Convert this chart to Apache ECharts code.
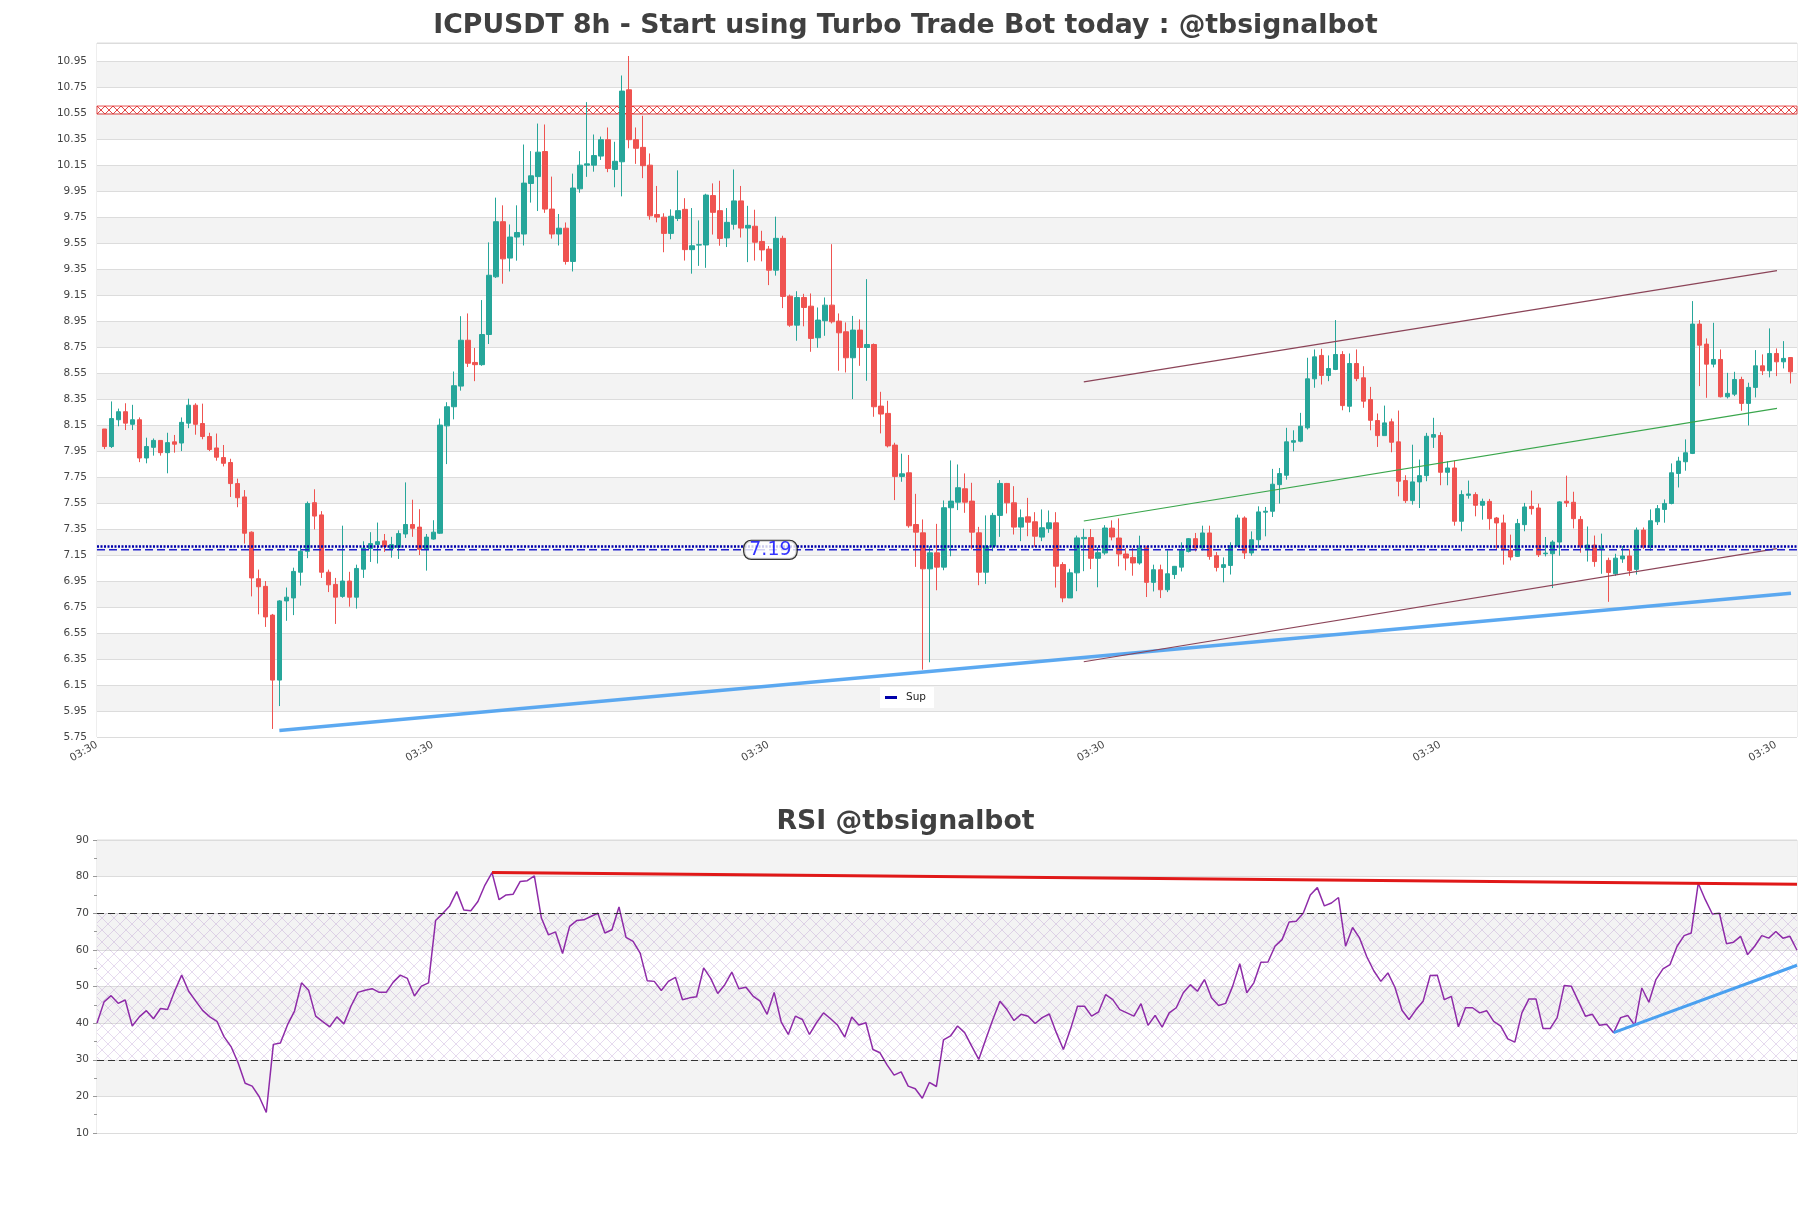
<!DOCTYPE html>
<html><head><meta charset="utf-8">
<script src="https://cdn.jsdelivr.net/npm/echarts/dist/echarts.min.js"></script>
<style>html,body{margin:0;padding:0;background:#fff;}#chart{width:1811px;height:1208px;}</style>
</head><body><div id="chart"></div>
<script>
// ---------- DATA ----------
const mainTitle = 'ICPUSDT 8h - Start using Turbo Trade Bot today : @tbsignalbot';
const rsiTitle = 'RSI @tbsignalbot';
const xTickLabels = ['03:30','03:30','03:30','03:30','03:30','03:30'];

const opens = [8.12,7.985,8.191,8.253,8.156,8.191,7.897,7.979,8.032,7.938,
8.021,8.012,8.165,8.303,8.162,8.062,7.974,7.9,7.862,7.7,
7.597,7.326,6.968,6.909,6.688,6.188,6.797,6.82,7.018,7.179,
7.553,7.459,7.018,6.924,6.832,6.95,6.826,7.041,7.2,7.232,
7.259,7.2,7.21,7.312,7.385,7.365,7.194,7.273,7.318,8.144,
8.291,8.45,8.803,8.632,8.615,8.847,9.291,9.715,9.435,9.597,
9.62,10.009,10.062,10.255,9.812,9.62,9.665,9.409,9.968,10.15,
10.15,10.22,10.346,10.117,10.176,10.73,10.346,10.287,10.15,9.77,
9.75,9.625,9.74,9.81,9.5,9.535,9.536,9.916,9.8,9.59,
9.695,9.875,9.666,9.68,9.563,9.504,9.342,9.587,9.142,8.919,
9.132,9.065,8.822,8.953,9.073,8.95,8.868,8.668,8.881,8.747,
8.77,8.296,8.24,7.996,7.755,7.783,7.385,7.321,7.044,7.167,
7.057,7.514,7.557,7.66,7.565,7.321,7.018,7.218,7.455,7.701,
7.552,7.365,7.444,7.406,7.288,7.354,7.398,7.077,6.82,7.013,
7.276,7.285,7.125,7.166,7.357,7.281,7.158,7.132,7.089,7.204,
6.94,7.037,6.883,7.0,7.057,7.178,7.276,7.204,7.32,7.145,
7.055,7.07,7.222,7.435,7.166,7.268,7.48,7.487,7.692,7.764,
8.018,8.026,8.129,8.506,8.686,8.532,8.578,8.693,8.295,8.624,
8.514,8.347,8.185,8.069,8.175,8.021,7.723,7.569,7.713,7.761,
8.057,8.07,7.787,7.82,7.41,7.61,7.615,7.533,7.563,7.435,
7.397,7.186,7.14,7.384,7.525,7.512,7.16,7.16,7.25,7.564,
7.556,7.424,7.2,7.227,7.2,7.109,7.006,7.12,7.143,7.04,
7.342,7.209,7.406,7.501,7.547,7.778,7.868,7.932,8.927,8.773,
8.619,8.655,8.368,8.388,8.501,8.317,8.44,8.606,8.568,8.701,
8.637,8.67];
const closes = [7.985,8.20,8.253,8.165,8.191,7.897,7.985,8.032,7.938,8.015,
8.003,8.171,8.303,8.156,8.062,7.962,7.903,7.856,7.7,7.591,
7.318,6.974,6.906,6.674,6.188,6.797,6.826,7.024,7.179,7.547,
7.45,7.018,6.921,6.826,6.95,6.826,7.047,7.203,7.238,7.253,
7.215,7.23,7.315,7.385,7.356,7.194,7.288,7.326,8.15,8.291,
8.453,8.803,8.626,8.615,8.847,9.303,9.715,9.429,9.597,9.632,
10.012,10.068,10.25,9.812,9.62,9.665,9.409,9.974,10.15,10.16,
10.224,10.346,10.125,10.18,10.72,10.346,10.28,10.146,9.76,9.75,
9.625,9.757,9.80,9.50,9.53,9.538,9.92,9.787,9.586,9.71,
9.875,9.666,9.687,9.557,9.498,9.342,9.587,9.14,8.919,9.132,
9.055,8.817,8.958,9.073,8.945,8.86,8.668,8.881,8.747,8.77,
8.291,8.235,7.99,7.755,7.775,7.375,7.326,7.044,7.167,7.057,
7.514,7.565,7.668,7.557,7.326,7.018,7.218,7.455,7.701,7.552,
7.365,7.437,7.403,7.295,7.36,7.398,7.064,6.82,7.013,7.282,
7.286,7.125,7.168,7.358,7.289,7.158,7.127,7.089,7.204,6.94,
7.037,6.883,7.006,7.063,7.186,7.276,7.204,7.32,7.14,7.055,
7.076,7.222,7.435,7.166,7.268,7.482,7.487,7.695,7.777,8.021,
8.03,8.141,8.506,8.675,8.532,8.585,8.693,8.3,8.624,8.508,
8.334,8.187,8.069,8.167,8.018,7.718,7.569,7.713,7.761,8.064,
8.077,7.787,7.82,7.41,7.615,7.62,7.533,7.563,7.43,7.397,
7.191,7.135,7.392,7.52,7.507,7.153,7.165,7.25,7.559,7.551,
7.43,7.214,7.227,7.1,7.21,7.016,7.126,7.143,7.03,7.342,
7.213,7.414,7.507,7.547,7.783,7.873,7.937,8.927,8.765,8.619,
8.655,8.368,8.394,8.501,8.317,8.44,8.606,8.568,8.701,8.637,
8.663,8.56];
const lows = [7.965,7.974,8.141,8.112,8.112,7.865,7.856,7.915,7.915,7.779,
7.938,7.95,8.126,8.076,8.041,7.95,7.876,7.832,7.597,7.518,
7.238,6.832,6.694,6.597,5.812,5.988,6.644,6.688,6.915,7.126,
7.347,6.974,6.865,6.62,6.821,6.753,6.738,6.974,7.097,7.085,
7.174,7.13,7.12,7.282,7.29,7.15,7.03,7.268,7.312,7.85,
8.194,8.415,8.597,8.488,8.606,8.774,9.282,9.238,9.332,9.415,
9.532,9.862,9.797,9.783,9.585,9.532,9.385,9.332,9.938,10.06,
10.1,10.19,10.096,9.98,9.91,10.28,10.16,10.05,9.73,9.71,
9.48,9.58,9.72,9.416,9.315,9.375,9.36,9.616,9.53,9.52,
9.654,9.593,9.404,9.416,9.41,9.227,9.30,9.05,8.906,8.799,
8.91,8.714,8.745,8.837,8.932,8.568,8.555,8.35,8.606,8.491,
8.214,8.086,7.978,7.573,7.714,7.36,7.059,6.268,6.325,6.879,
7.033,7.141,7.496,7.475,7.193,6.918,6.928,7.18,7.29,7.47,
7.308,7.257,7.295,7.213,7.257,7.321,6.9,6.787,6.82,6.872,
7.026,7.042,6.902,7.152,7.263,7.063,7.032,6.991,7.076,6.827,
6.87,6.819,6.865,6.966,7.024,7.17,7.178,7.186,7.114,7.024,
6.94,7.0,7.212,7.12,7.145,7.204,7.294,7.443,7.546,7.73,
7.948,8.018,8.116,8.437,8.462,8.488,8.573,8.264,8.249,8.488,
8.283,8.11,7.982,8.069,7.941,7.602,7.551,7.538,7.512,7.718,
7.974,7.687,7.687,7.376,7.333,7.584,7.448,7.422,7.345,7.191,
7.076,7.109,7.135,7.333,7.461,7.135,7.14,6.896,7.145,7.52,
7.355,7.168,7.1,7.06,7.006,6.79,6.99,7.09,6.99,7.0,
7.196,7.183,7.381,7.399,7.54,7.67,7.799,7.927,8.45,8.36,
8.594,8.363,8.355,8.373,8.26,8.147,8.363,8.535,8.517,8.527,
8.586,8.47];
const highs = [8.12,8.332,8.277,8.318,8.306,8.209,8.053,8.047,8.032,8.091,
8.074,8.209,8.353,8.318,8.315,8.091,8.085,7.997,7.891,7.738,
7.65,7.332,7.038,6.95,6.697,6.803,6.9,7.053,7.218,7.562,
7.656,7.488,7.038,6.974,7.376,7.021,7.076,7.256,7.326,7.4,
7.312,7.29,7.34,7.709,7.576,7.503,7.312,7.418,8.2,8.326,
8.562,8.988,9.009,8.744,9.112,9.556,9.9,9.841,9.694,9.841,
10.309,10.258,10.47,10.463,10.062,9.774,9.709,10.085,10.258,10.635,
10.386,10.37,10.44,10.33,10.84,10.99,10.44,10.53,10.24,9.99,
9.78,9.81,10.11,9.896,9.82,9.725,9.93,10.01,10.03,9.82,
10.117,9.99,9.837,9.807,9.645,9.528,9.754,9.607,9.154,9.18,
9.16,9.163,9.055,9.132,9.542,9.009,8.94,8.99,8.963,9.273,
8.778,8.406,8.337,8.014,7.93,7.92,7.621,7.424,7.218,7.39,
7.57,7.878,7.847,7.778,7.706,7.367,7.455,7.475,7.727,7.705,
7.68,7.501,7.59,7.48,7.501,7.493,7.48,7.095,7.044,7.30,
7.352,7.35,7.21,7.38,7.417,7.432,7.204,7.204,7.299,7.222,
7.076,7.076,7.186,7.066,7.248,7.281,7.32,7.376,7.376,7.173,
7.132,7.248,7.461,7.448,7.332,7.525,7.52,7.813,7.82,8.129,
8.11,8.244,8.668,8.732,8.737,8.686,8.958,8.719,8.701,8.732,
8.603,8.444,8.239,8.3,8.2,8.262,7.764,7.999,7.885,8.09,
8.206,8.095,7.872,7.877,7.648,7.723,7.633,7.584,7.582,7.443,
7.461,7.307,7.428,7.551,7.646,7.546,7.289,7.264,7.564,7.761,
7.637,7.45,7.37,7.3,7.315,7.13,7.16,7.22,7.195,7.362,
7.362,7.501,7.535,7.578,7.855,7.906,8.04,9.104,8.958,8.817,
8.937,8.732,8.552,8.56,8.522,8.476,8.727,8.694,8.894,8.74,
8.796,8.67];

const rsiValues = [40,45.8,47.5,45.4,46.3,39.2,41.7,43.4,41.2,44,
43.7,48.7,53.1,48.7,46,43.4,41.7,40.5,36.3,33.6,
29.2,23.6,22.8,19.9,15.6,34.2,34.6,39.5,43.3,51,
49,41.9,40.4,39,41.7,39.8,44.6,48.4,49,49.4,
48.4,48.4,51.2,53.1,52.2,47.4,50.1,51,68,69.9,
72,75.9,70.9,70.7,73.2,77.7,81.1,73.7,75,75.2,
78.7,78.9,80.2,68.7,64.1,64.9,59,66.4,68,68.2,
69.1,70,64.6,65.5,71.7,63.4,62.3,59.1,51.6,51.4,
48.9,51.4,52.5,46.4,46.9,47.2,55.1,52.2,48.1,50.5,
53.9,49.4,49.8,47.4,46,42.4,48.4,40.3,36.9,41.9,
41,36.9,40.1,42.8,41.2,39.4,36.2,41.7,39.5,40.1,
32.8,31.9,28.6,25.8,
26.7,22.8,22.1,19.5,23.8,22.7,35.4,36.5,39.2,37.4,
33.7,30.1,35.6,41,46,43.7,40.7,42.4,41.9,39.9,
41.5,42.5,37.4,32.8,38.3,44.6,44.6,41.9,43.1,47.8,
46.4,43.7,42.8,41.9,45.3,39.4,42.1,38.9,42.8,44.2,
48.3,50.5,48.7,51.9,46.9,44.8,45.4,50.1,56.2,48.3,
51,56.6,56.7,61,62.8,67.6,67.8,70,75,77,
72,72.8,74.3,61,66.1,63.2,58.2,54.3,51.4,53.7,
49.8,43.5,41,43.7,46,53,53.1,46.4,47.3,39,
44.2,44.2,42.8,43.4,40.5,39.2,35.7,34.8,42.8,46.6,
46.6,38.5,38.5,41.5,50.3,50.1,46,41.9,42.4,39.4,
39.7,37.4,41.5,42.1,39.4,49.6,45.7,51.9,54.8,56,
61,63.9,64.6,78.2,73.7,69.8,70,61.7,62.1,63.7,
58.7,61,63.9,63.2,65,63.2,63.7,59.9];

// trend lines: [candle index, price]
const supportLine = [[25.0, 5.80], [241.1, 6.856]];
const channelUpper = [[140.0, 8.483], [239.1, 9.338]];
const channelMid = [[140.0, 7.412], [239.1, 8.278]];
const channelLower = [[140.0, 6.329], [239.1, 7.199]];
const resistanceBand = [10.543, 10.605];
const supDottedLevel = 7.215;
const dashedLevel = 7.19;
const dashedLabelText = '7.19';
const dashedLabelIndex = 95.2;
// RSI lines: [index, rsi]
const rsiResLine = [[56, 81.1], [241, 77.9]];
const rsiSupLine = [[215, 37.4], [241, 55.8]];
const rsiLevels = [30, 70];
const rsiHatch = [30, 70];

// ---------- CHART ----------
const X0 = 1.07, XMAX = 243.03;
const Y_MIN = 5.75, Y_MAX = 11.09, GRID_TOP = 43, GRID_H = 694;
const FONT = 'DejaVu Sans';
function makePattern(w, h, color, lw) {
  const c = document.createElement('canvas'); c.width = w; c.height = h;
  const g = c.getContext('2d');
  g.strokeStyle = color; g.lineWidth = lw;
  g.beginPath(); g.moveTo(0,0); g.lineTo(w,h); g.moveTo(w,0); g.lineTo(0,h); g.stroke();
  return c;
}
// pattern cell height matches the band's pixel height so each cell is one "X"
const bandTopPx = GRID_TOP + (Y_MAX - resistanceBand[1]) / (Y_MAX - Y_MIN) * GRID_H;
const bandHPx = (resistanceBand[1] - resistanceBand[0]) / (Y_MAX - Y_MIN) * GRID_H;
const redHatch = makePattern(8, Math.round(bandHPx), '#e02a2a', 0.9);
const rsiHatchPat = makePattern(12, 12, 'rgba(150,100,190,0.24)', 1);

const candleData = opens.map((o, i) => [i + X0, o, closes[i], lows[i], highs[i]]);
const shiftX = arr => arr.map(p => [p[0] + X0, p[1]]);
const rsiData = rsiValues.map((v, i) => [i, v]);

const chart = echarts.init(document.getElementById('chart'), null, {renderer: 'canvas'});
chart.setOption({
  animation: false,
  backgroundColor: '#ffffff',
  title: [
    {text: mainTitle, left: 'center', top: 8, textStyle: {fontFamily: FONT, fontSize: 26.7, fontWeight: 'bold', color: '#404040'}},
    {text: rsiTitle, left: 'center', top: 804, textStyle: {fontFamily: FONT, fontSize: 26.7, fontWeight: 'bold', color: '#404040'}}
  ],
  legend: {
    data: [{name: 'Sup', icon: 'rect', itemStyle: {color: '#0000aa'}}],
    left: 880, top: 687, backgroundColor: '#ffffff', padding: [5, 8, 5, 5],
    itemWidth: 12, itemHeight: 3, selectedMode: false,
    textStyle: {fontFamily: FONT, fontSize: 10.5, color: '#222', padding: [0,0,0,4]}
  },
  grid: [
    {left: 97, right: 14, top: GRID_TOP, height: GRID_H, show: true, borderColor: '#dddddd', borderWidth: 1, backgroundColor: 'transparent'},
    {left: 97, right: 14, top: 840, height: 293, show: true, borderColor: '#dddddd', borderWidth: 1, backgroundColor: 'transparent'}
  ],
  xAxis: [
    {type: 'value', gridIndex: 0, min: 0, max: XMAX, interval: 48,
     splitLine: {show: false}, axisLine: {show: false}, axisTick: {show: false},
     axisLabel: {rotate: 30, fontFamily: FONT, fontSize: 10.5, color: '#444', margin: 7,
       formatter: (v) => { const k = Math.round(v / 48); return Math.abs(v - k * 48) < 0.01 ? (xTickLabels[k] || '') : ''; }}},
    {type: 'value', gridIndex: 1, min: 0, max: rsiValues.length - 1, show: false}
  ],
  yAxis: [
    {type: 'value', gridIndex: 0, min: Y_MIN, max: Y_MAX, interval: 0.2,
     axisLine: {show: false}, axisTick: {show: false},
     splitLine: {show: true, lineStyle: {color: '#dcdcdc', width: 1}},
     splitArea: {show: true, areaStyle: {color: ['#ffffff', '#f3f3f3']}},
     axisLabel: {fontFamily: FONT, fontSize: 10.5, color: '#444', margin: 10,
       formatter: (v) => { const k = (v - 5.75) / 0.2; return Math.abs(k - Math.round(k)) < 0.01 ? v.toFixed(2) : ''; }}},
    {type: 'value', gridIndex: 1, min: 10, max: 90, interval: 10,
     axisLine: {show: false},
     axisTick: {show: true, length: 4, lineStyle: {color: '#999'}},
     minorTick: {show: true, splitNumber: 2, length: 3, lineStyle: {color: '#999'}},
     splitLine: {show: true, lineStyle: {color: '#dcdcdc', width: 1}},
     splitArea: {show: true, areaStyle: {color: ['#ffffff', '#f3f3f3']}},
     axisLabel: {fontFamily: FONT, fontSize: 10.5, color: '#444', margin: 8}}
  ],
  series: [
    {type: 'line', name: 'band', xAxisIndex: 0, yAxisIndex: 0, data: [], z: 1, silent: true,
     markArea: {silent: true, itemStyle: {color: {image: redHatch, repeat: 'repeat', x: 97, y: bandTopPx}, borderColor: '#e02a2a', borderWidth: 0.8},
       data: [[{yAxis: resistanceBand[0]}, {yAxis: resistanceBand[1]}]]}},
    {type: 'candlestick', name: 'price', xAxisIndex: 0, yAxisIndex: 0, data: candleData, barWidth: 5, z: 3,
     itemStyle: {color: '#26a69a', color0: '#ef5350', borderColor: '#26a69a', borderColor0: '#ef5350', borderWidth: 1}},
    {type: 'line', name: 'support', xAxisIndex: 0, yAxisIndex: 0, data: shiftX(supportLine), symbol: 'none', z: 5,
     lineStyle: {color: '#4aa0f0', width: 3.5, opacity: 0.9}},
    {type: 'line', name: 'upper', xAxisIndex: 0, yAxisIndex: 0, data: shiftX(channelUpper), symbol: 'none', z: 5,
     lineStyle: {color: '#8b4458', width: 1.2}},
    {type: 'line', name: 'mid', xAxisIndex: 0, yAxisIndex: 0, data: shiftX(channelMid), symbol: 'none', z: 5,
     lineStyle: {color: '#3aa64c', width: 1.2}},
    {type: 'line', name: 'lower', xAxisIndex: 0, yAxisIndex: 0, data: shiftX(channelLower), symbol: 'none', z: 5,
     lineStyle: {color: '#8b4458', width: 1.2}},
    {type: 'line', name: 'Sup', xAxisIndex: 0, yAxisIndex: 0, data: [[0, supDottedLevel], [XMAX, supDottedLevel]], symbol: 'none', z: 6,
     lineStyle: {color: '#0000aa', width: 2.5, type: [2, 1.5]}, itemStyle: {color: '#0000aa'}},
    {type: 'line', name: 'dash', xAxisIndex: 0, yAxisIndex: 0, data: [[0, dashedLevel], [XMAX, dashedLevel]], symbol: 'none', z: 6,
     lineStyle: {color: '#2020cc', width: 1.5, type: [8, 4]}},
    {type: 'scatter', name: 'lbl', xAxisIndex: 0, yAxisIndex: 0, data: [[dashedLabelIndex + X0, dashedLevel]], symbolSize: 1, z: 10,
     itemStyle: {color: 'transparent'},
     label: {show: true, position: 'inside', formatter: dashedLabelText, fontFamily: FONT, fontSize: 19, color: '#0000ff',
       backgroundColor: '#ffffff', borderColor: '#000', borderWidth: 1.2, borderRadius: 7, padding: [0, 5], lineHeight: 18}},
    // RSI
    {type: 'line', name: 'hatch', xAxisIndex: 1, yAxisIndex: 1, data: [], z: 1, silent: true,
     markArea: {silent: true, itemStyle: {color: {image: rsiHatchPat, repeat: 'repeat'}},
       data: [[{yAxis: rsiHatch[0]}, {yAxis: rsiHatch[1]}]]}},
    {type: 'line', name: 'rsi', xAxisIndex: 1, yAxisIndex: 1, data: rsiData, symbol: 'none', z: 4,
     lineStyle: {color: '#8e2ba8', width: 1.5},
     markLine: {silent: true, symbol: 'none', label: {show: false},
       lineStyle: {color: '#333', width: 1.2, type: [7, 4]},
       data: rsiLevels.map(v => ({yAxis: v}))}},
    {type: 'line', name: 'rsiRes', xAxisIndex: 1, yAxisIndex: 1, data: rsiResLine, symbol: 'none', z: 5,
     lineStyle: {color: '#e01818', width: 3}},
    {type: 'line', name: 'rsiSup', xAxisIndex: 1, yAxisIndex: 1, data: rsiSupLine, symbol: 'none', z: 5,
     lineStyle: {color: '#4aa0f0', width: 3}}
  ]
});
</script></body></html>
